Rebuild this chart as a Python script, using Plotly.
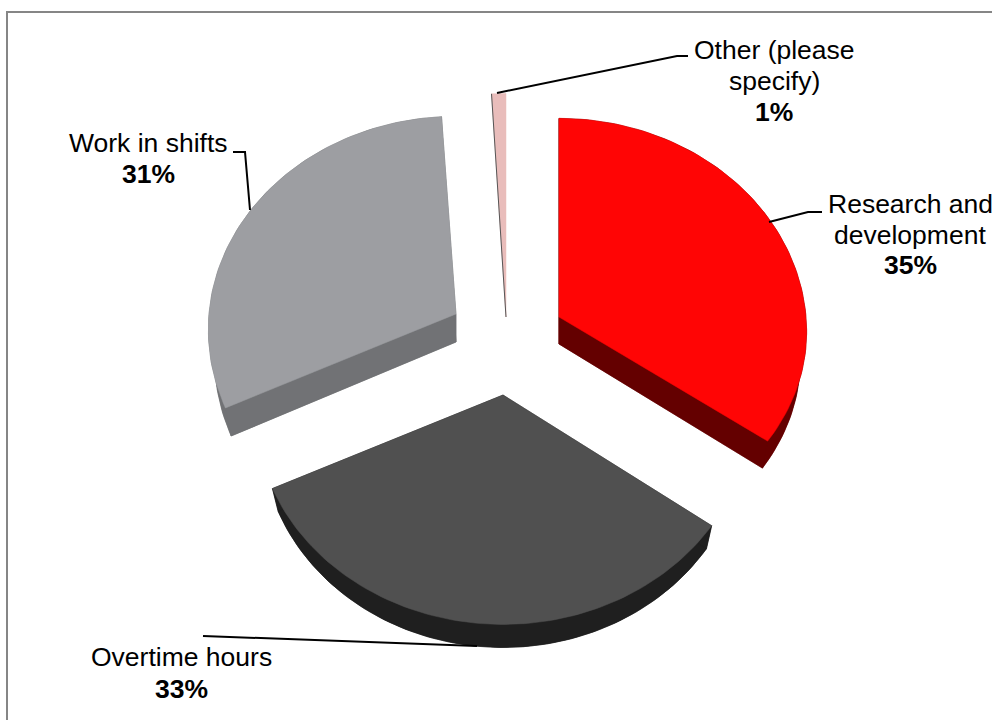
import numpy as np
import plotly.graph_objects as go

categories = ["Research and development", "Overtime hours", "Work in shifts", "Other (please specify)"]
values = [35, 33, 31, 1]
label_lines = [["Research and", "development"], ["Overtime hours"], ["Work in shifts"], ["Other (please", "specify)"]]
pct_labels = ["35%", "33%", "31%", "1%"]
top_colors = ["#FF0505", "#505050", "#9D9EA2", "#E9BDBB"]
wall_colors = ["#640000", "#1F1F1F", "#717275", "#555555"]

# style / layout parameters
apex = [(559, 317), (503, 395), (456, 314), (506, 317)]
back_scale = [0.995, 1.0, 0.99, 1.12]
front_scale = [0.945, 0.995, 1.0, 1.0]
wall_h = [27, 23, 28, 0]
label_x = [910, 181, 148, 774]
label_y = [(204, 235, 265), (657, 689), (143, 174), (50, 81, 112)]
leaders = [
    ([769, 808, 822], [222, 212, 212]),
    ([203, 477], [636, 646]),
    ([233, 245, 250], [152, 152, 210]),
    ([497, 677, 688], [93, 56, 56]),
]
RX, RY, K = 247, 214, 0.072
WALL_X = 0.975

fig = go.Figure()


def wedge(i, start, end):
    th = np.radians(np.linspace(start, end, 90))
    u, v = np.sin(th), -np.cos(th)
    s = 1 / (1 - K * v)
    sc = np.where(v > 0, front_scale[i], back_scale[i])
    x = np.r_[0, RX * u * s]
    y = np.r_[0, RY * sc * v * s]
    return x, y


def poly(x, y, color, **kw):
    fig.add_trace(go.Scatter(x=list(x) + [x[0]], y=list(y) + [y[0]], mode="lines", fill="toself", fillcolor=color,
                             line=dict(color=color, width=0.5), showlegend=False, **kw))


angles = np.cumsum([0] + values) * 3.6
order = [3, 2, 0, 1]
for i in order:
    x, y = wedge(i, angles[i], angles[i + 1])
    cx, cy = apex[i]
    tx, ty = cx + x, cy + y
    bx, by = cx + x * WALL_X, cy + y + wall_h[i]
    if wall_h[i]:
        c = wall_colors[i]
        poly(bx, by, c, hoverinfo="skip")
        # outer arc band
        poly(np.r_[tx[1:], bx[1:][::-1]], np.r_[ty[1:], by[1:][::-1]], c, hoverinfo="skip")
        # the two radial cut faces
        for e in (1, -1):
            poly([tx[0], tx[e], bx[e], bx[0]], [ty[0], ty[e], by[e], by[0]], c, hoverinfo="skip")
    poly(tx, ty, top_colors[i], name=categories[i], text=f"{values[i]}%", hoverinfo="name+text")
    if not wall_h[i]:
        # a sliver this thin only shows its cut face as a dark edge
        fig.add_trace(go.Scatter(x=[tx[0], tx[1]], y=[ty[0], ty[1]], mode="lines",
                                 line=dict(color=wall_colors[i], width=1), hoverinfo="skip", showlegend=False))

for lx, ly in leaders:
    fig.add_trace(go.Scatter(x=lx, y=ly, mode="lines", line=dict(color="#000000", width=2),
                             hoverinfo="skip", showlegend=False))

FONT = "Liberation Sans, Arial, sans-serif"
for i in range(len(categories)):
    texts = label_lines[i] + [f"<b>{pct_labels[i]}</b>"]
    for t, yy in zip(texts, label_y[i]):
        fig.add_annotation(x=label_x[i], y=yy, text=t, showarrow=False, xanchor="center", yanchor="middle",
                           font=dict(family=FONT, size=26.5, color="#000000"), xref="x", yref="y")

# The frame is only visible along the top and left edges
fig.add_shape(type="line", x0=6, y0=12, x1=992, y1=12, line=dict(color="#868686", width=2), xref="x", yref="y",
              layer="below")
fig.add_shape(type="line", x0=7, y0=11, x1=7, y1=720, line=dict(color="#868686", width=2), xref="x", yref="y",
              layer="below")

fig.update_layout(
    width=992, height=720, margin=dict(l=0, r=0, t=0, b=0),
    paper_bgcolor="white", plot_bgcolor="white", showlegend=False,
    xaxis=dict(range=[0, 992], visible=False, fixedrange=True),
    yaxis=dict(range=[720, 0], visible=False, fixedrange=True),
)
fig.write_html("out.html", config={"displayModeBar": False},
               post_script="document.body.style.margin='0';document.documentElement.style.overflow='hidden';")
